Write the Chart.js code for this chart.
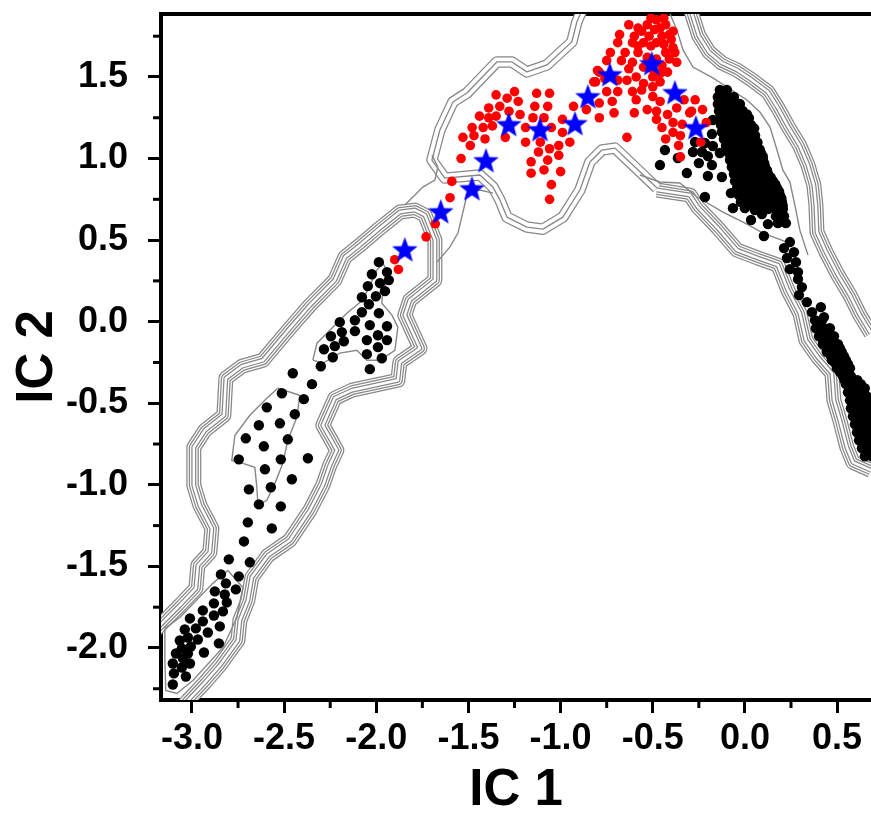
<!DOCTYPE html>
<html lang="en">
<head>
<meta charset="UTF-8">
<title>IC 1 / IC 2</title>
<script src="https://cdn.jsdelivr.net/npm/chart.js"></script>
<style>
  body { margin: 0; background: #fff; }
  #wrap { width: 871px; height: 813px; }
</style>
</head>
<body>
<div id="wrap"><canvas id="icChart" width="871" height="813"></canvas></div>
<script>
// ---- points, as [IC 1, IC 2] ----
const blackPts = [
  // bottom-left group
  [-2.843,-1.549],[-2.816,-1.604],[-2.746,-1.561],[-2.762,-1.641],[-2.876,-1.653],[-2.822,-1.672],[-2.811,-1.721],[-2.881,-1.727],
  [-2.941,-1.770],[-2.832,-1.776],[-2.881,-1.801],[-3.011,-1.819],[-2.941,-1.837],[-2.849,-1.868],[-3.039,-1.887],[-2.979,-1.880],
  [-2.914,-1.905],[-3.022,-1.936],[-2.968,-1.948],[-3.066,-1.954],[-2.854,-1.972],[-3.006,-1.991],[-3.055,-2.003],[-3.087,-2.034],
  [-3.022,-2.034],[-2.935,-2.028],[-3.049,-2.064],[-3.104,-2.095],[-3.011,-2.095],[-3.055,-2.120],[-3.098,-2.156],[-3.033,-2.175],
  [-3.104,-2.224],[-2.800,-1.457],[-2.686,-1.475],[-2.718,-1.347],[-2.567,-1.267],[-2.697,-1.230],
  // middle-left group
  [-2.453,-0.316],[-2.349,-0.383],[-2.512,-0.439],[-2.393,-0.475],[-2.594,-0.525],[-2.442,-0.567],[-2.637,-0.635],[-2.523,-0.623],
  [-2.708,-0.715],[-2.480,-0.721],[-2.610,-0.764],[-2.746,-0.844],[-2.518,-0.844],[-2.371,-0.837],[-2.604,-0.905],[-2.458,-0.966],
  [-2.691,-1.028],[-2.572,-1.015],[-2.637,-1.120],[-2.518,-1.132],
  // upper-middle group
  [-1.986,0.365],[-1.942,0.304],[-2.024,0.291],[-1.932,0.255],[-2.046,0.218],[-1.980,0.236],[-1.953,0.187],[-2.078,0.150],
  [-2.002,0.156],[-2.040,0.107],[-2.078,0.058],[-1.986,0.052],[-2.198,-0.003],[-2.116,0.009],[-2.035,-0.021],[-1.942,-0.028],
  [-2.246,-0.089],[-2.187,-0.064],[-2.116,-0.058],[-1.991,-0.083],[-1.942,-0.113],[-2.225,-0.150],[-2.176,-0.120],[-2.051,-0.113],
  [-1.991,-0.156],[-2.284,-0.169],[-2.236,-0.218],[-2.051,-0.199],[-1.970,-0.224],[-2.301,-0.273],[-2.035,-0.291],
  // loose points round the right cluster
  [-0.174,1.236],[-0.179,1.150],[-0.271,1.101],[-0.217,1.095],[-0.174,1.077],[-0.434,1.052],[-0.282,1.040],[-0.233,1.040],
  [-0.201,1.015],[-0.136,1.034],[-0.364,1.003],[-0.250,0.972],[-0.179,0.960],[-0.461,0.960],[-0.315,0.911],[-0.201,0.893],
  [-0.125,0.887],[-0.217,0.764],[-0.076,0.788],[-0.065,0.696],[0.000,0.696],[0.054,0.684],[0.092,0.660],[0.033,0.623],
  [0.125,0.598],[0.103,0.525],
  // dense right cluster
  [-0.136,1.420],[-0.098,1.420],
  [-0.147,1.377],[-0.103,1.377],[-0.060,1.377],
  [-0.147,1.334],[-0.103,1.334],[-0.060,1.334],[-0.027,1.334],
  [-0.141,1.291],[-0.098,1.291],[-0.054,1.291],[-0.011,1.291],
  [-0.136,1.248],[-0.092,1.248],[-0.049,1.248],[-0.005,1.248],[0.022,1.248],
  [-0.130,1.206],[-0.087,1.206],[-0.043,1.206],[0.000,1.206],[0.033,1.206],
  [-0.125,1.163],[-0.081,1.163],[-0.038,1.163],[0.005,1.163],[0.038,1.163],
  [-0.114,1.120],[-0.071,1.120],[-0.027,1.120],[0.016,1.120],[0.049,1.120],
  [-0.103,1.077],[-0.060,1.077],[-0.016,1.077],[0.027,1.077],[0.065,1.077],
  [-0.087,1.034],[-0.043,1.034],[0.000,1.034],[0.043,1.034],[0.087,1.034],
  [-0.081,0.991],[-0.038,0.991],[0.005,0.991],[0.049,0.991],[0.098,0.991],
  [-0.071,0.948],[-0.027,0.948],[0.016,0.948],[0.060,0.948],[0.109,0.948],
  [-0.060,0.905],[-0.016,0.905],[0.027,0.905],[0.071,0.905],[0.125,0.905],
  [-0.054,0.862],[-0.011,0.862],[0.033,0.862],[0.076,0.862],[0.119,0.862],[0.152,0.862],
  [-0.043,0.819],[0.000,0.819],[0.043,0.819],[0.087,0.819],[0.130,0.819],[0.174,0.819],
  [-0.033,0.776],[0.011,0.776],[0.054,0.776],[0.098,0.776],[0.141,0.776],[0.190,0.776],
  [-0.022,0.733],[0.022,0.733],[0.065,0.733],[0.109,0.733],[0.152,0.733],[0.201,0.733],
  [0.125,0.690],[0.168,0.690],[0.206,0.690],
  [0.168,0.647],[0.212,0.647],[0.179,0.604],[0.222,0.604],
  [-0.125,1.356],[-0.081,1.356],
  [-0.125,1.313],[-0.081,1.313],[-0.038,1.313],
  [-0.119,1.270],[-0.076,1.270],[-0.032,1.270],[0.011,1.270],
  [-0.114,1.227],[-0.070,1.227],[-0.027,1.227],[0.017,1.227],
  [-0.108,1.185],[-0.065,1.185],[-0.021,1.185],[0.022,1.185],[0.050,1.185],
  [-0.103,1.142],[-0.059,1.142],[-0.016,1.142],[0.027,1.142],[0.055,1.142],
  [-0.092,1.099],[-0.049,1.099],[-0.005,1.099],[0.038,1.099],[0.068,1.099],
  [-0.081,1.056],[-0.038,1.056],[0.006,1.056],[0.049,1.056],[0.080,1.056],
  [-0.065,1.013],[-0.021,1.013],[0.022,1.013],[0.065,1.013],[0.097,1.013],
  [-0.059,0.970],[-0.016,0.970],[0.027,0.970],[0.071,0.970],[0.105,0.970],
  [-0.049,0.927],[-0.005,0.927],[0.038,0.927],[0.082,0.927],[0.120,0.927],
  [-0.038,0.884],[0.006,0.884],[0.049,0.884],[0.093,0.884],[0.140,0.884],
  [-0.032,0.841],[0.011,0.841],[0.055,0.841],[0.098,0.841],[0.141,0.841],[0.165,0.841],
  [-0.021,0.798],[0.022,0.798],[0.065,0.798],[0.109,0.798],[0.152,0.798],[0.185,0.798],
  [-0.011,0.755],[0.033,0.755],[0.076,0.755],[0.120,0.755],[0.163,0.755],[0.198,0.755],
  [0.044,0.712],[0.087,0.712],[0.130,0.712],[0.175,0.712],[0.205,0.712],
  // chain down to the lower right
  [0.244,0.488],[0.212,0.451],[0.266,0.426],[0.228,0.390],[0.277,0.365],[0.244,0.322],[0.288,0.304],[0.288,0.261],
  [0.309,0.212],[0.293,0.163],[0.336,0.120],[0.364,0.058],[0.412,0.089],[0.429,0.028],
  // lower-right clusters
  [0.380,0.009],[0.418,0.009],
  [0.385,-0.040],[0.429,-0.040],[0.461,-0.040],
  [0.402,-0.089],[0.445,-0.089],[0.483,-0.089],
  [0.423,-0.138],[0.467,-0.138],[0.505,-0.138],
  [0.445,-0.187],[0.488,-0.187],[0.526,-0.187],
  [0.472,-0.236],[0.515,-0.236],[0.548,-0.236],
  [0.499,-0.285],[0.543,-0.285],[0.570,-0.285],
  [0.532,-0.334],[0.575,-0.334],
  [0.548,-0.383],[0.591,-0.383],[0.629,-0.383],
  [0.559,-0.433],[0.602,-0.433],[0.646,-0.433],
  [0.570,-0.482],[0.613,-0.482],[0.657,-0.482],
  [0.575,-0.531],[0.619,-0.531],[0.662,-0.531],
  [0.586,-0.580],[0.629,-0.580],[0.673,-0.580],
  [0.597,-0.629],[0.640,-0.629],[0.678,-0.629],
  [0.608,-0.678],[0.651,-0.678],[0.689,-0.678],
  [0.619,-0.727],[0.662,-0.727],[0.700,-0.727],
  [0.635,-0.776],[0.673,-0.776],
  [0.651,-0.825],[0.689,-0.825],
  [0.400,-0.015],
  [0.407,-0.064],[0.445,-0.064],
  [0.424,-0.113],[0.464,-0.113],
  [0.445,-0.162],[0.486,-0.162],[0.515,-0.162],
  [0.467,-0.211],[0.507,-0.211],[0.537,-0.211],
  [0.494,-0.260],[0.530,-0.260],[0.559,-0.260],
  [0.516,-0.309],[0.556,-0.309],
  [0.540,-0.358],[0.583,-0.358],[0.610,-0.358],
  [0.570,-0.408],[0.610,-0.408],[0.650,-0.408],
  [0.580,-0.457],[0.622,-0.457],[0.660,-0.457],
  [0.592,-0.506],[0.636,-0.506],[0.670,-0.506],
  [0.600,-0.555],[0.645,-0.555],[0.685,-0.555],
  [0.610,-0.604],[0.655,-0.604],[0.690,-0.604],
  [0.620,-0.653],[0.665,-0.653],
  [0.632,-0.702],[0.675,-0.702],
  [0.645,-0.751],[0.688,-0.751],
  [0.662,-0.800]
];

const redPts = [
  [-1.90,0.38],[-1.88,0.32],[-1.73,0.52],[-1.68,0.60],[-1.60,0.76],[-1.59,0.86],[-1.54,1.00],
  [-1.35,1.39],[-1.25,1.41],[-1.29,1.37],[-1.23,1.35],[-1.39,1.31],[-1.33,1.32],[-1.28,1.29],[-1.44,1.26],
  [-1.39,1.25],[-1.35,1.26],[-1.22,1.27],[-1.48,1.19],[-1.42,1.19],[-1.37,1.20],[-1.53,1.13],[-1.47,1.14],
  [-1.41,1.12],[-1.30,1.13],[-1.49,1.08],
  [-1.13,1.40],[-1.06,1.40],[-1.14,1.32],[-1.07,1.32],[-1.15,1.25],[-1.09,1.25],[-1.19,1.19],[-1.05,1.19],
  [-0.99,1.24],[-0.99,1.16],[-1.19,1.10],[-1.11,1.10],[-1.06,1.06],[-1.01,1.08],[-0.95,1.10],[-1.12,1.04],
  [-1.01,1.02],[-1.16,0.98],[-1.07,0.99],[-1.09,0.93],[-1.16,0.91],[-1.00,0.92],[-1.05,0.84],[-1.06,0.75],
  [-0.93,1.32],[-0.86,1.30],[-0.81,1.47],[-0.79,1.25],[-0.79,1.53],
  [-0.48,1.85],[-0.53,1.82],[-0.43,1.82],[-0.56,1.78],[-0.49,1.79],[-0.39,1.78],[-0.60,1.75],[-0.52,1.75],
  [-0.45,1.75],[-0.40,1.73],[-0.61,1.71],[-0.55,1.71],[-0.48,1.71],[-0.39,1.68],[-0.69,1.71],[-0.65,1.65],
  [-0.58,1.65],[-0.43,1.65],[-0.38,1.65],[-0.73,1.65],[-0.67,1.60],[-0.61,1.59],[-0.55,1.56],[-0.45,1.57],
  [-0.37,1.59],[-0.42,1.53],[-0.75,1.60],[-0.80,1.54],[-0.82,1.47],[-0.76,1.49],[-0.69,1.48],[-0.64,1.48],
  [-0.59,1.50],[-0.50,1.50],[-0.46,1.47],[-0.61,1.41],[-0.56,1.42],[-0.50,1.44],[-0.75,1.41],[-0.69,1.41],
  [-0.79,1.34],[-0.72,1.35],[-0.59,1.36],[-0.50,1.38],[-0.46,1.35],[-0.37,1.31],[-0.33,1.36],[-0.27,1.36],
  [-0.71,1.28],[-0.60,1.28],[-0.53,1.30],[-0.48,1.29],[-0.42,1.27],[-0.29,1.29],[-0.23,1.30],[-0.48,1.24],
  [-0.45,1.19],[-0.39,1.22],[-0.35,1.14],[-0.39,1.16],[-0.43,1.12],[-0.36,1.08],[-0.64,1.13],[-0.21,1.22],
  [-0.24,1.10],[-0.35,1.01],[-0.68,1.76],[-0.63,1.82],[-0.30,1.28],[-0.34,1.21],
  [-0.51,1.86],[-0.44,1.86],[-0.58,1.80],[-0.46,1.80],[-0.41,1.76],[-0.51,1.69],[-0.44,1.70],[-0.58,1.69],
  [-0.53,1.62],[-0.48,1.61],[-0.41,1.61],[-0.63,1.55],[-0.50,1.55],[-0.46,1.52],[-0.55,1.46]
];

const starPts = [
  [-1.845,0.445],[-1.650,0.678],[-1.481,0.819],[-1.405,0.991],[-1.281,1.212],[-1.112,1.181],
  [-0.922,1.218],[-0.852,1.383],[-0.733,1.518],[-0.505,1.586],[-0.380,1.408],[-0.266,1.193]
];

// ---- contour lines ----
const cLeftBand = [
  [-3.228,-1.923],[-3.169,-1.856],[-3.066,-1.739],[-2.979,-1.635],[-2.968,-1.494],[-2.903,-1.414],[-2.892,-1.267],
  [-2.957,-1.126],[-2.990,-1.003],[-2.990,-0.770],[-2.930,-0.666],[-2.827,-0.574],[-2.816,-0.347],[-2.729,-0.273],
  [-2.615,-0.236],[-2.469,-0.040],[-2.360,0.101],[-2.225,0.255],[-2.170,0.396],[-2.089,0.469],[-1.980,0.574],
  [-1.872,0.672],[-1.791,0.684],[-1.736,0.653],[-1.682,0.500],[-1.682,0.255],[-1.818,0.132],[-1.845,0.040],
  [-1.763,-0.163],[-1.872,-0.248],[-1.883,-0.359],[-2.132,-0.420],[-2.225,-0.469],[-2.290,-0.635],[-2.214,-0.788],
  [-2.252,-0.880],[-2.290,-1.003],[-2.360,-1.156],[-2.469,-1.340],[-2.588,-1.433],[-2.675,-1.567],[-2.697,-1.709],
  [-2.740,-1.831],[-2.751,-1.954],[-2.849,-2.107],[-2.930,-2.212],[-3.022,-2.322],[-3.077,-2.396]
];
const cRightOuter = [
  [-0.304,1.948],[-0.288,1.887],[-0.250,1.752],[-0.195,1.653],[-0.125,1.586],[-0.043,1.543],[0.038,1.482],
  [0.125,1.408],[0.179,1.310],[0.233,1.199],[0.298,1.077],[0.342,0.960],[0.374,0.837],[0.385,0.715],
  [0.391,0.549],[0.440,0.426],[0.505,0.285],[0.570,0.163],[0.624,0.040],[0.684,-0.071],[0.760,-0.175]
];
const cRightInner = [
  [-0.477,0.807],[-0.298,0.776],[-0.255,0.702],[-0.147,0.574],[-0.043,0.439],[0.071,0.390],[0.179,0.347],
  [0.233,0.193],[0.298,0.052],[0.331,-0.113],[0.396,-0.218],[0.472,-0.316],[0.483,-0.482],[0.515,-0.604],
  [0.553,-0.770],[0.586,-0.862],[0.684,-0.911],[0.760,-0.923]
];
const cTop = [
  [-0.477,0.819],[-0.608,0.960],[-0.705,1.064],[-0.776,1.052],[-0.841,0.979],[-0.895,0.807],[-0.988,0.641],
  [-1.096,0.567],[-1.183,0.580],[-1.291,0.641],[-1.329,0.745],[-1.367,0.825],[-1.438,0.899],[-1.628,0.880],
  [-1.698,0.991],[-1.655,1.175],[-1.584,1.347],[-1.508,1.402],[-1.346,1.592],[-1.264,1.592],[-1.183,1.531],
  [-1.074,1.574],[-0.939,1.715],[-0.912,1.837],[-0.879,1.923]
];
const sRightA = [
  [-0.407,1.887],[-0.369,1.788],[-0.336,1.666],[-0.282,1.561],[-0.174,1.494],[0.011,1.359],[0.081,1.285],
  [0.136,1.193],[0.174,1.052],[0.206,0.929],[0.244,0.856],[0.271,0.715],[0.298,0.561],[0.342,0.408]
];
const sRightB = [
  [-0.570,0.899],[-0.461,0.856],[-0.353,0.850],[-0.260,0.764],[-0.119,0.672],[0.011,0.598],[0.098,0.543],[0.228,0.488]
];
const sNeckA = [[-1.845,0.715],[-1.747,0.825],[-1.682,0.868],[-1.666,0.948],[-1.698,1.021]];
const sNeckB = [[-1.671,0.365],[-1.601,0.457],[-1.557,0.543],[-1.530,0.672],[-1.508,0.776],[-1.438,0.807],[-1.367,0.788]];
const sMidLeft = [
  [-2.534,-0.408],[-2.415,-0.451],[-2.431,-0.586],[-2.480,-0.727],[-2.507,-0.868],[-2.550,-0.991],[-2.594,-1.095],
  [-2.642,-1.126],[-2.648,-1.015],[-2.659,-0.893],[-2.740,-0.862],[-2.784,-0.850],[-2.767,-0.696],[-2.686,-0.574],
  [-2.594,-0.469],[-2.534,-0.408]
];
const sUpperMid = [
  [-2.344,-0.236],[-2.322,-0.132],[-2.252,-0.052],[-2.160,0.052],[-2.073,0.132],[-1.997,0.316],[-1.964,0.359],
  [-1.926,0.273],[-1.964,0.193],[-1.970,0.113],[-1.915,0.040],[-1.883,-0.034],[-1.899,-0.175],[-1.980,-0.236],
  [-2.051,-0.236],[-2.105,-0.175],[-2.198,-0.193],[-2.290,-0.255],[-2.344,-0.236]
];
const sBottomLeft = [
  [-3.147,-1.880],[-3.066,-1.813],[-2.887,-1.604],[-2.805,-1.525],[-2.724,-1.629],[-2.756,-1.813],[-2.832,-1.997],
  [-2.995,-2.199],[-3.082,-2.279],[-3.142,-2.261],[-3.147,-2.077],[-3.147,-1.880]
];

// minor tick positions
const xMinor = [-2.75, -2.25, -1.75, -1.25, -0.75, -0.25, 0.25];
const yMinor = [1.75, 1.25, 0.75, 0.25, -0.25, -0.75, -1.25, -1.75, -2.25];

const X_MIN = -3.168, X_MAX = 0.684, Y_MIN = -2.319, Y_MAX = 1.886;

const GRAY = '#878787';
// nested strokes give the packed parallel contour look
const bundle6 = [[15, GRAY], [12.5, '#fff'], [10, GRAY], [7.5, '#fff'], [5, GRAY], [2.5, '#fff']];
const bundle3 = [[11.5, GRAY], [9, '#fff'], [1.3, GRAY]];

const toXY = arr => arr.map(([x, y]) => ({ x, y }));

function contourSets(path, strokes, baseOrder) {
    return strokes.map(([w, c], i) => ({
        data: toXY(path),
        showLine: true,
        borderColor: c,
        borderWidth: w,
        borderJoinStyle: 'round',
        pointRadius: 0,
        clip: 0,
        order: baseOrder - i
    }));
}

function singleLine(path) {
    return {
        data: toXY(path), showLine: true, borderColor: GRAY, borderWidth: 1.4,
        pointRadius: 0, clip: 0, order: 40
    };
}

function makeStar(size, color) {
    const c = document.createElement('canvas');
    c.width = c.height = size;
    const g = c.getContext('2d');
    g.fillStyle = color;
    g.beginPath();
    for (let i = 0; i < 10; i++) {
        const r = i % 2 ? size * 0.21 : size * 0.5;
        const a = -Math.PI / 2 + i * Math.PI / 5;
        g.lineTo(size / 2 + r * Math.cos(a), size / 2 + 1.5 + r * Math.sin(a));
    }
    g.closePath();
    g.fill();
    return c;
}

const minorTicks = {
    id: 'minorTicks',
    afterDraw(chart) {
        const { ctx, chartArea: a, scales: { x, y } } = chart;
        ctx.save();
        ctx.strokeStyle = '#000';
        ctx.lineWidth = 3;
        xMinor.forEach(v => {
            const px = x.getPixelForValue(v);
            ctx.beginPath(); ctx.moveTo(px, a.bottom); ctx.lineTo(px, a.bottom + 8); ctx.stroke();
        });
        yMinor.forEach(v => {
            const py = y.getPixelForValue(v);
            ctx.beginPath(); ctx.moveTo(a.left, py); ctx.lineTo(a.left - 8, py); ctx.stroke();
        });
        ctx.restore();
    }
};

const FAMILY = "'Liberation Sans', Arial, sans-serif";
const tickFont = { family: FAMILY, size: 36, weight: 'bold' };
const xTitleFont = { family: FAMILY, size: 51, weight: 'bold', lineHeight: 0.85 };
const yTitleFont = { family: FAMILY, size: 51, weight: 'bold', lineHeight: 1 };

// keep the plot box where the reference has it
function noPad(s) { s.paddingLeft = 0; s.paddingRight = 0; s.paddingTop = 0; s.paddingBottom = 0; }

const datasets = [
    ...contourSets(cLeftBand, bundle6, 100),
    ...contourSets(cRightOuter, bundle6, 90),
    ...contourSets(cRightInner, bundle6, 80),
    ...contourSets(cTop, bundle3, 70),
    singleLine(sRightA), singleLine(sRightB), singleLine(sNeckA), singleLine(sNeckB),
    singleLine(sMidLeft), singleLine(sUpperMid), singleLine(sBottomLeft),
    { data: toXY(blackPts), pointRadius: 5.2, pointBackgroundColor: '#000', pointBorderWidth: 0, clip: 0, order: 3 },
    { data: toXY(redPts), pointRadius: 4.8, pointBackgroundColor: '#ff0000', pointBorderWidth: 0, clip: 0, order: 2 },
    { data: toXY(starPts), pointStyle: makeStar(27, '#0000ff'), pointRadius: 13, clip: 0, order: 1 }
];

new Chart(document.getElementById('icChart'), {
    type: 'scatter',
    data: { datasets },
    options: {
        responsive: false,
        animation: false,
        events: [],
        layout: { padding: 0, autoPadding: false },
        plugins: { legend: { display: false }, tooltip: { enabled: false } },
        scales: {
            x: {
                type: 'linear', position: 'bottom', min: X_MIN, max: X_MAX, z: 1,
                ticks: { stepSize: 0.5, includeBounds: false, autoSkip: false, maxRotation: 0,
                         color: '#000', font: tickFont, padding: 4,
                         callback: v => Number(v).toFixed(1) },
                grid: { drawOnChartArea: false, tickLength: 13, tickWidth: 3, tickColor: '#000' },
                border: { width: 4, color: '#000' },
                title: { display: true, text: 'IC 1', color: '#000', font: xTitleFont, padding: 0 },
                afterFit(s) { s.height = 113; noPad(s); }
            },
            x2: {
                type: 'linear', position: 'top', min: X_MIN, max: X_MAX, z: 1,
                ticks: { display: false },
                grid: { drawOnChartArea: false, drawTicks: false },
                border: { width: 4, color: '#000' },
                afterFit(s) { s.height = 14; noPad(s); }
            },
            y: {
                type: 'linear', position: 'left', min: Y_MIN, max: Y_MAX, z: 1,
                ticks: { stepSize: 0.5, includeBounds: false, autoSkip: false,
                         color: '#000', font: tickFont, padding: 20,
                         callback: v => Number(v).toFixed(1) },
                grid: { drawOnChartArea: false, tickLength: 13, tickWidth: 3, tickColor: '#000' },
                border: { width: 4, color: '#000' },
                title: { display: true, text: 'IC 2', color: '#000', font: yTitleFont, padding: { top: 12, bottom: 0 } },
                afterFit(s) { s.width = 161; noPad(s); }
            }
        }
    },
    plugins: [minorTicks]
});
</script>
</body>
</html>
